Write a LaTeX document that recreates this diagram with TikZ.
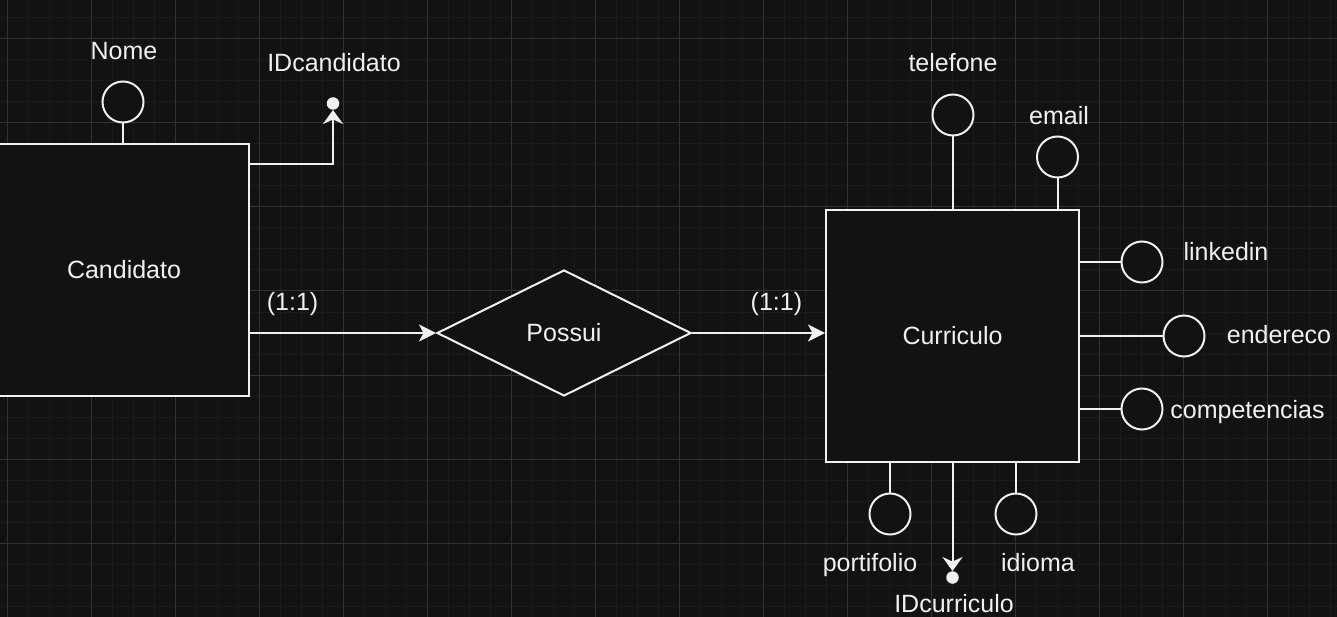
\documentclass[tikz,border=0pt]{standalone}
\usepackage{xcolor}
\usepackage{tikz}
\usepackage{fontspec}
\setmainfont{Liberation Sans}
\usetikzlibrary{shapes.geometric, arrows.meta, calc}
\definecolor{fundo}{RGB}{18,18,18}
\definecolor{traco}{RGB}{240,240,240}
\definecolor{gradegrossa}{RGB}{50,50,50}
\definecolor{gradefina}{RGB}{26,26,26}

\begin{document}
\begin{tikzpicture}[x=1pt,y=-1pt,
    rotulo/.style={text=traco,font=\fontsize{25}{30}\selectfont,text height=22.6pt,text depth=5.3pt,inner sep=0pt},
    entidade/.style={rectangle,draw=traco,fill=fundo,line width=2pt,minimum width=250pt,minimum height=252pt,rotulo},
    relacao/.style={diamond,draw=traco,fill=fundo,line width=2pt,minimum width=254pt,minimum height=126pt,rotulo},
    atributo/.style={circle,draw=traco,fill=fundo,line width=2pt,minimum size=41pt,inner sep=0pt},
    chave/.style={circle,fill=traco,minimum size=12.5pt,inner sep=0pt},
    ligacao/.style={draw=traco,line width=2pt},
    seta/.style={ligacao,-{Stealth[length=17pt,width=17pt,inset=4.5pt]}},
    setachave/.style={ligacao,-{Stealth[length=14pt,width=20pt,inset=4.5pt]}}]

    % Fundo e grade
    \useasboundingbox (0,0) rectangle (1337,617);
    \fill[fundo] (0,0) rectangle (1337,617);
    \clip (0,0) rectangle (1337,617);
    \foreach \x in {7,28,...,1337} \draw[gradefina,line width=1pt] (\x,0) -- (\x,617);
    \foreach \y in {18,39,...,617} \draw[gradefina,line width=1pt] (0,\y) -- (1337,\y);
    \foreach \x in {7,91,...,1337} \draw[gradegrossa,line width=1pt] (\x,0) -- (\x,617);
    \foreach \y in {39,123,...,617} \draw[gradegrossa,line width=1pt] (0,\y) -- (1337,\y);

    % Entidades e relacionamento
    \node[entidade] (cand) at (124,270) {Candidato};
    \node[relacao] (possui) at (564,333) {Possui};
    \node[entidade,minimum width=253pt] (curr) at (952.5,336) {Curriculo};

    % Atributos do Candidato
    \node[atributo] (nome) at (123,102) {};
    \node[rotulo] (nomeTxt) at (124,50.6) {Nome};
    \draw[ligacao] (nome) -- (nome |- cand.north);
    \node[chave] (idcand) at (333,103.5) {};
    \node[rotulo] (idcandTxt) at (334,63) {IDcandidato};
    \draw[setachave] ($(cand.north east)+(0,21)$) -| (idcand);

    % Ligacoes com cardinalidade
    \draw[seta] (cand.east |- possui) -- (possui.west);
    \node[rotulo] (card1) at (292.6,302) {(1:1)};
    \draw[seta] (possui.east) -- (curr.west |- possui);
    \node[rotulo] (card2) at (776.4,302) {(1:1)};

    % Atributos do Curriculo
    \node[atributo] (tel) at (953,115) {};
    \node[rotulo] (telTxt) at (953,63) {telefone};
    \draw[ligacao] (tel) -- (tel |- curr.north);
    \node[atributo] (email) at (1057.5,157) {};
    \node[rotulo] (emailTxt) at (1059,116.3) {email};
    \draw[ligacao] (email) -- (email |- curr.north);
    \node[atributo] (linkedin) at (1142,262) {};
    \node[rotulo] (linkedinTxt) at (1226,252) {linkedin};
    \draw[ligacao] (curr.east |- linkedin) -- (linkedin);
    \node[atributo] (end) at (1184,336) {};
    \node[rotulo] (endTxt) at (1279,335.3) {endereco};
    \draw[ligacao] (curr.east |- end) -- (end);
    \node[atributo] (comp) at (1142,409) {};
    \node[rotulo] (compTxt) at (1247.5,409.5) {competencias};
    \draw[ligacao] (curr.east |- comp) -- (comp);
    \node[atributo] (port) at (890,514) {};
    \node[rotulo] (portTxt) at (870,562.5) {portifolio};
    \draw[ligacao] (port) -- (port |- curr.south);
    \node[atributo] (idioma) at (1016,514) {};
    \node[rotulo] (idiomaTxt) at (1038,562.5) {idioma};
    \draw[ligacao] (idioma) -- (idioma |- curr.south);
    \node[chave] (idcurr) at (952.5,577.5) {};
    \node[rotulo] (idcurrTxt) at (954,604) {IDcurriculo};
    \draw[setachave] (curr.south) -- (idcurr);
\end{tikzpicture}
\end{document}
